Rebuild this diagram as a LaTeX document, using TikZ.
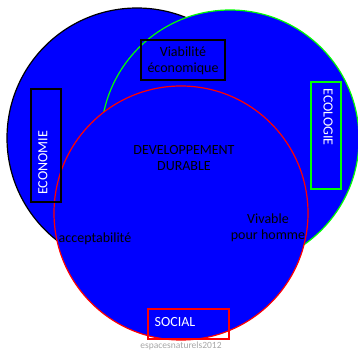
\documentclass[tikz,border=0pt]{standalone}
\usepackage{fontspec}
\setmainfont{Carlito}
\usepackage{tikz}

\begin{document}
\begin{tikzpicture}[x=1pt,y=-1pt,
  pole/.style={circle,minimum size=#1,inner sep=0pt,fill=blue,line width=1.2pt},
  cadre/.style={line width=1.2pt},
  texte/.style={font=\fontsize{14}{16}\selectfont,align=center},
  titre/.style={font=\fontsize{14}{16}\selectfont,text=white}]
\useasboundingbox (0,0) rectangle (358,353);
% les trois piliers
\node [pole=260pt,draw=black] (eco) at (137,138) {};
\node [pole=258pt,draw=green] (ecol) at (230,139) {};
\node [pole=254pt,draw=red] (soc) at (181,213) {};
% cadres
\draw [cadre,draw=black] (141,40) rectangle (225,80);
\draw [cadre,draw=black] (31,89) rectangle (61,202);
\draw [cadre,draw=green] (311,82) rectangle (341,189);
\draw [cadre,draw=red] (148,309) rectangle (229,339);
% textes
\node [texte] (viab) at (183,61) {Viabilité\\économique};
\node [titre,rotate=90] (economie) at (43,163) {ECONOMIE};
\node [titre,rotate=-90] (ecologie) at (328,117) {ECOLOGIE};
\node [titre] (social) at (175,322) {SOCIAL};
\node [texte] (dd) at (184,158) {DEVELOPPEMENT\\DURABLE};
\node [texte] (accept) at (95,239) {acceptabilité};
\node [texte] (vivable) at (268,228) {Vivable\\pour homme};
\node [font=\fontsize{9.5}{11}\selectfont,text=black!35] (source) at (181,346) {espacesnaturels2012};
\end{tikzpicture}
\end{document}
